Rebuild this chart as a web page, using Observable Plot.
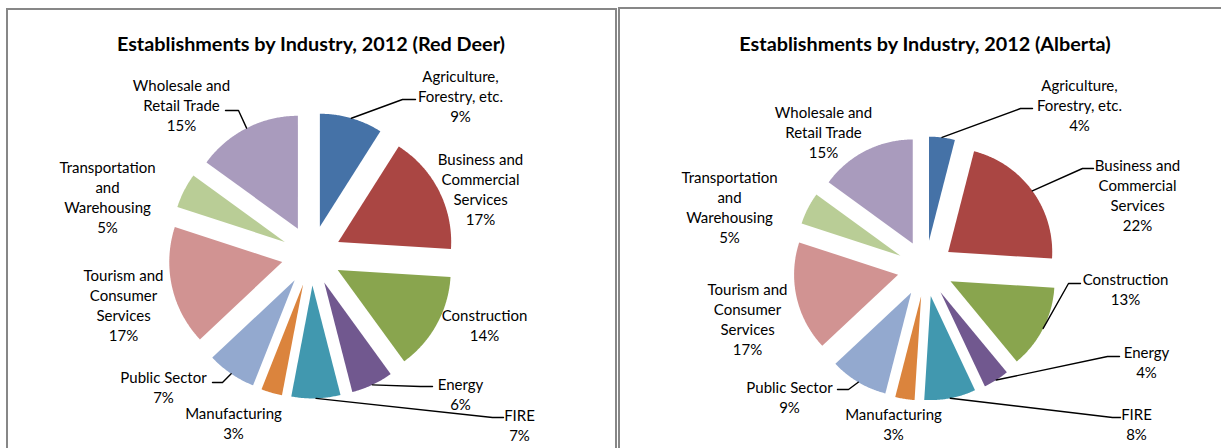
<!DOCTYPE html>
<html>
<head>
<meta charset="utf-8">
<script src="https://cdn.jsdelivr.net/npm/d3@7"></script>
<script src="https://cdn.jsdelivr.net/npm/@observablehq/plot@0.6"></script>
<style>
  html, body { margin: 0; padding: 0; background: #fff; }
  body { width: 1221px; height: 448px; position: relative; overflow: hidden; font-family: Lato, "Open Sans", sans-serif; }
  .panel { position: absolute; border: 2px solid #878787; border-bottom: none; box-sizing: border-box; background: #fff; }
  .title { position: absolute; transform: translateX(-50%); white-space: nowrap; font-family: Lato, sans-serif; font-weight: bold; font-size: 19.8px; color: #000; line-height: 1; }
  .chart { position: absolute; }
</style>
</head>
<body>
<div class="panel" style="left:6px; top:8px; width:611px; height:460px;"></div>
<div class="panel" style="left:618px; top:7px; width:620px; height:460px;"></div>
<div id="c1" class="chart" style="left:8px; top:10px;"></div>
<div id="c2" class="chart" style="left:620px; top:10px;"></div>
<div class="title" id="t1" style="left:311px; top:34px;"></div>
<div class="title" id="t2" style="left:925px; top:34px;"></div>
<script>
// ---------- data ----------
const categories = [
  "Agriculture, Forestry, etc.", "Business and Commercial Services", "Construction",
  "Energy", "FIRE", "Manufacturing", "Public Sector",
  "Tourism and Consumer Services", "Transportation and Warehousing", "Wholesale and Retail Trade"
];
const labelNames = [
  "Agriculture,\nForestry, etc.", "Business and\nCommercial\nServices", "Construction",
  "Energy", "FIRE", "Manufacturing", "Public Sector",
  "Tourism and\nConsumer\nServices", "Transportation\nand\nWarehousing", "Wholesale and\nRetail Trade"
];
const redDeerValues = [9, 17, 14, 6, 7, 3, 7, 17, 5, 15];
const albertaValues = [4, 22, 13, 4, 8, 3, 9, 17, 5, 15];
const titles = ["Establishments by Industry, 2012 (Red Deer)", "Establishments by Industry, 2012 (Alberta)"];
const palette = ["#4572A7", "#AA4643", "#89A54E", "#71588F", "#4198AF", "#DB843D", "#93A9CF", "#D19392", "#B9CD96", "#A99BBD"];

// ---------- layout (pixels, relative to pie centre) ----------
const layoutRedDeer = {
  width: 608, height: 438, cx: 303, cy: 245, r: 113, explode: 0.265,
  labels: [[149,-160],[169,-67],[173,69],[149,138],[208,169],[-78,167],[-148,131],[-188,49],[-204,-59],[-130,-151]],
  leaders: { 0: [[91,-156],[104,-156]], 9: [[-73,-145],[-86,-145]], 3: [[109,131],[121,131]],
             4: [[181,162],[192,162]], 6: [[-89,127],[-99,127]] }
};
const layoutAlberta = {
  width: 601, height: 438, cx: 305, cy: 258, r: 104, explode: 0.27,
  labels: [[154,-164],[212,-74],[200,20],[221,93],[211,155],[-32,155],[-136,128],[-178,50],[-196,-62],[-102,-137]],
  leaders: { 0: [[95,-160],[107,-160]], 1: [[157,-100],[168,-100]], 2: [[143,15],[155,15]],
             3: [[182,88],[194,88]], 4: [[187,149],[195,149]], 6: [[-77,121],[-88,121]] }
};

function pieChart(values, L) {
  const total = d3.sum(values);
  let acc = 0;
  const slices = values.map((v, i) => {
    const a0 = acc / total * 2 * Math.PI; acc += v;
    const a1 = acc / total * 2 * Math.PI;
    return {i, cat: categories[i], v, a0, a1, mid: (a0 + a1) / 2};
  });
  const e = L.explode;
  const pts = [];
  for (const s of slices) {
    const ox = e * Math.sin(s.mid), oy = e * Math.cos(s.mid);
    pts.push({cat: s.cat, x: ox, y: oy});
    const n = Math.max(2, Math.ceil((s.a1 - s.a0) / 0.01));
    for (let k = 0; k <= n; k++) {
      const a = s.a0 + (s.a1 - s.a0) * k / n;
      pts.push({cat: s.cat, x: ox + Math.sin(a), y: oy + Math.cos(a)});
    }
  }
  const labels = slices.map((s, i) => ({
    cat: s.cat,
    x: L.labels[i][0] / L.r,
    y: -L.labels[i][1] / L.r,
    text: labelNames[i] + "\n" + Math.round(s.v / total * 100) + "%"
  }));
  const leaders = [];
  for (const [key, pos] of Object.entries(L.leaders)) {
    const s = slices[+key];
    const ox = (e + 1) * Math.sin(s.mid), oy = (e + 1) * Math.cos(s.mid);
    leaders.push({cat: s.cat, x: ox, y: oy});
    for (const p of pos) leaders.push({cat: s.cat, x: p[0] / L.r, y: -p[1] / L.r});
  }
  return Plot.plot({
    width: L.width, height: L.height,
    marginTop: 0, marginRight: 0, marginBottom: 0, marginLeft: 0,
    x: {domain: [-L.cx / L.r, (L.width - L.cx) / L.r], range: [0, L.width], axis: null},
    y: {domain: [-(L.height - L.cy) / L.r, L.cy / L.r], range: [L.height, 0], axis: null},
    color: {domain: categories, range: palette},
    style: {background: "transparent", overflow: "visible"},
    marks: [
      Plot.line(pts, {x: "x", y: "y", z: "cat", fill: "cat", stroke: "none", curve: "linear-closed"}),
      Plot.line(leaders, {x: "x", y: "y", z: "cat", stroke: "#000", strokeWidth: 1.4}),
      Plot.text(labels, {x: "x", y: "y", text: "text", textAnchor: "middle", lineAnchor: "middle",
        lineHeight: 1.32, fontSize: 15, fontFamily: "Lato, sans-serif", fill: "#000"})
    ]
  });
}

document.getElementById("c1").append(pieChart(redDeerValues, layoutRedDeer));
document.getElementById("c2").append(pieChart(albertaValues, layoutAlberta));
document.getElementById("t1").textContent = titles[0];
document.getElementById("t2").textContent = titles[1];
</script>
</body>
</html>
